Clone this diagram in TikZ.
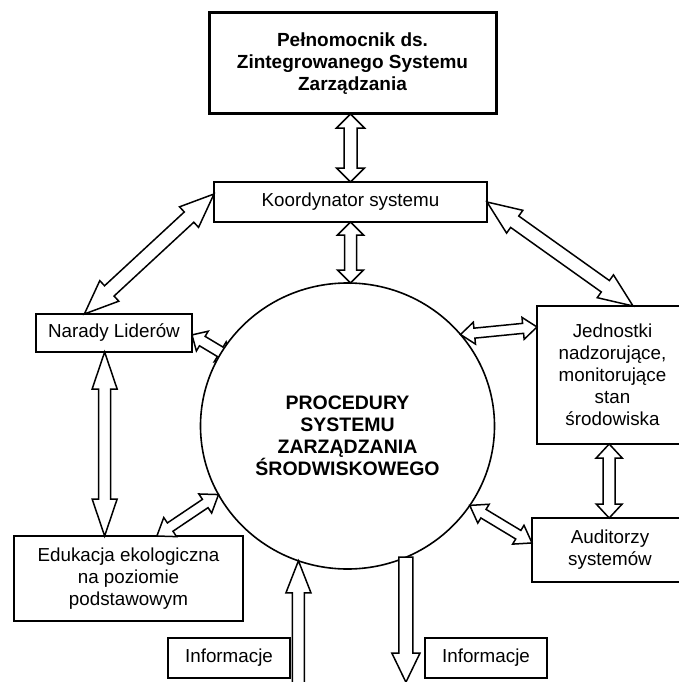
\documentclass[tikz,border=0pt]{standalone}
\usepackage{fontspec}
\setmainfont{Liberation Sans}
\usetikzlibrary{calc,shapes.geometric,backgrounds}
\tikzset{
  x=1pt, y=-1pt,
  txtfont/.style={font=\fontsize{18.8}{22}\selectfont},
  boldfont/.style={font=\bfseries\fontsize{19}{22}\selectfont},
  box/.style={draw, line width=1.6pt, fill=white, inner sep=0pt, outer sep=0pt, align=center, txtfont},
  ba L/.store in=\baL, ba H/.store in=\baH, ba W/.store in=\baW,
  ba L=34pt, ba H=14pt, ba W=7pt,
  arrowline/.style={draw, fill=white, line width=1.5pt, line join=miter, miter limit=10},
  dblarrow/.style={arrowline, to path={
    let \p1=(\tikztostart), \p2=(\tikztotarget), \n1={atan2(\y2-\y1,\x2-\x1)} in
    (\p1) -- ($(\p1)+(\n1:\baL)+(\n1+90:\baH)$) -- ($(\p1)+(\n1:\baL)+(\n1+90:\baW)$)
    -- ($(\p2)+(\n1+180:\baL)+(\n1+90:\baW)$) -- ($(\p2)+(\n1+180:\baL)+(\n1+90:\baH)$)
    -- (\p2) -- ($(\p2)+(\n1+180:\baL)+(\n1-90:\baH)$) -- ($(\p2)+(\n1+180:\baL)+(\n1-90:\baW)$)
    -- ($(\p1)+(\n1:\baL)+(\n1-90:\baW)$) -- ($(\p1)+(\n1:\baL)+(\n1-90:\baH)$) -- cycle
  }},
  sglarrow/.style={arrowline, to path={
    let \p1=(\tikztostart), \p2=(\tikztotarget), \n1={atan2(\y2-\y1,\x2-\x1)} in
    ($(\p1)+(\n1+90:\baW)$)
    -- ($(\p2)+(\n1+180:\baL)+(\n1+90:\baW)$) -- ($(\p2)+(\n1+180:\baL)+(\n1+90:\baH)$)
    -- (\p2) -- ($(\p2)+(\n1+180:\baL)+(\n1-90:\baH)$) -- ($(\p2)+(\n1+180:\baL)+(\n1-90:\baW)$)
    -- ($(\p1)+(\n1-90:\baW)$) -- cycle
  }},
}
\begin{document}
\begin{tikzpicture}
\useasboundingbox (0,0) rectangle (679,682);

% nodes
\node[box, line width=3pt, minimum width=287pt, minimum height=101pt, boldfont] (pel) at (352.5,63.5)
  {Pełnomocnik ds.\\Zintegrowanego Systemu\\Zarządzania};
\node[box, minimum width=273pt, minimum height=40pt] (koord) at (350.5,202) {Koordynator systemu};
\node[draw, fill=white, ellipse, line width=1.6pt, minimum width=294pt, minimum height=286pt, inner sep=0pt, outer sep=0pt] (proc) at (347.5,426) {};
\node[align=center, font=\bfseries\fontsize{19.5}{22}\selectfont, inner sep=0pt] (proctext) at (347.5,436)
  {PROCEDURY\\SYSTEMU\\ZARZĄDZANIA\\ŚRODWISKOWEGO};
\node[box, minimum width=156pt, minimum height=38pt] (nar) at (114,333) {Narady Liderów};
\node[box, minimum width=151pt, minimum height=138pt] (jed) at (612.5,375)
  {Jednostki\\nadzorujące,\\monitorujące\\stan\\środowiska};
\node[box, minimum width=156pt, minimum height=64pt] (aud) at (610,550) {Auditorzy\\systemów};
\node[box, minimum width=229pt, minimum height=85pt] (edu) at (128.5,578.5)
  {Edukacja ekologiczna\\na poziomie\\podstawowym};
\node[box, minimum width=122pt, minimum height=40pt] (inf1) at (229,658) {Informacje};
\node[box, minimum width=122pt, minimum height=40pt] (inf2) at (486,658) {Informacje};

% helper coordinates
\coordinate (narend) at ($(proc.center)+(-117,-68)$);
\coordinate (nb) at ($(nar.south west)!0.44!(nar.south east)$);
\coordinate (jb) at ($(jed.south west)!0.478!(jed.south east)$);
\coordinate (upstart) at ($(proc.250.6)+(0,140)$);
\coordinate (downend) at ($(proc.294.1)+(0,125)$);

% background: page and the arrow whose head is hidden by the circle
\begin{pgfonlayer}{background}
\fill[white] (0,0) rectangle (679,682);
\draw[dblarrow, ba L=12pt, ba H=11.5pt, ba W=5.5pt] ($(nar.north east)!0.55!(nar.south east)$) to (narend);
\end{pgfonlayer}

% connectors
\draw[dblarrow, ba L=14pt, ba H=14pt, ba W=6.5pt] (pel.south -| koord.north) to (koord.north);
\draw[dblarrow, ba L=13pt, ba H=13pt, ba W=6pt] (koord.south) to (proc.north -| koord.south);
\draw[dblarrow, ba L=34pt, ba H=14pt, ba W=7pt] ($(koord.north west)!0.3!(koord.south west)$) to ($(nar.north west)!0.31!(nar.north east)$);
\draw[dblarrow, ba L=34pt, ba H=14pt, ba W=7pt] (koord.east) to ($(jed.north west)!0.636!(jed.north east)$);
\draw[dblarrow, ba L=37pt, ba H=12.5pt, ba W=6pt] (nb) to (edu.north -| nb);
\draw[dblarrow, ba L=16pt, ba H=11.5pt, ba W=5pt] ($(edu.north west)!0.624!(edu.north east)$) to (proc.208);
\draw[dblarrow, ba L=14pt, ba H=11pt, ba W=5pt] (proc.39) to ($(jed.north west)!0.152!(jed.south west)$);
\draw[dblarrow, ba L=16pt, ba H=11pt, ba W=5pt] (proc.327) to ($(aud.north west)!0.39!(aud.south west)$);
\draw[dblarrow, ba L=14pt, ba H=13pt, ba W=6pt] (jb) to (aud.north -| jb);
\draw[sglarrow, ba L=32pt, ba H=12.5pt, ba W=6pt] (upstart) to (proc.250.6);
\draw[sglarrow, ba L=29pt, ba H=14pt, ba W=7pt] (proc.294.1) to (downend);
\end{tikzpicture}
\end{document}
